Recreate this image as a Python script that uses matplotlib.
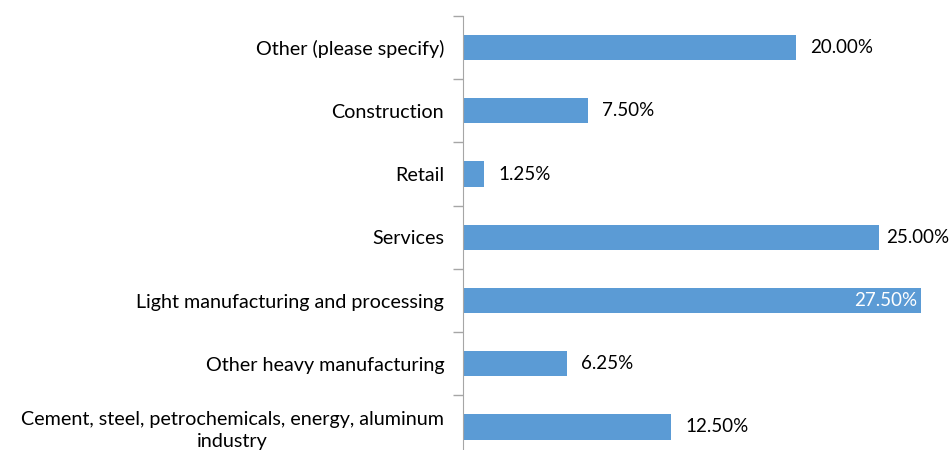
import matplotlib
matplotlib.use("Agg")
import matplotlib.pyplot as plt
import numpy as np

categories = ["Cement, steel, petrochemicals, energy, aluminum\nindustry",
              "Other heavy manufacturing",
              "Light manufacturing and processing",
              "Services",
              "Retail",
              "Construction",
              "Other (please specify)"]
values = [12.50, 6.25, 27.50, 25.00, 1.25, 7.50, 20.00]
labels = ["12.50%", "6.25%", "27.50%", "25.00%", "1.25%", "7.50%", "20.00%"]

plt.rcParams['font.family'] = ['Lato', 'DejaVu Sans']

fig = plt.figure(figsize=(9.52, 4.5), dpi=100)
ax = fig.add_axes([463/952, (450-458.6)/450, 483/952, 442.6/450])

y = np.arange(len(categories))
color = "#5B9BD5"
ax.barh(y, values, height=0.4, color=color)
xmax = 29
ax.set_xlim(0, xmax)
ax.set_ylim(-0.5, len(categories) - 0.5)

fig.canvas.draw()
renderer = fig.canvas.get_renderer()
px_per_unit = ax.transData.transform((1, 0))[0] - ax.transData.transform((0, 0))[0]
fig_right_px = fig.bbox.width - 3

for yi, v, lab in zip(y, values, labels):
    if v > 26:
        ax.text(v - 0.25, yi, lab, ha='right', va='center', color='white', fontsize=13.5)
    else:
        t = ax.text(v + 0.85, yi, lab, ha='left', va='center', color='#000000', fontsize=13.5)
        bb = t.get_window_extent(renderer)
        if bb.x1 > fig_right_px:
            # shift label inward so it stays inside the chart area
            shift = (bb.x1 - fig_right_px) / px_per_unit
            t.set_x(v + 0.85 - shift)

ax.set_yticks(y)
ax.set_yticklabels(categories, fontsize=14.2, multialignment='center', linespacing=1.3)
ax.set_yticks(np.arange(-0.5, len(categories), 1.0), minor=True)
ax.tick_params(axis='y', which='major', length=0, pad=13.5)
ax.tick_params(axis='y', which='minor', length=7, color='#A6A6A6', width=1)

for s in ['top', 'right', 'bottom']:
    ax.spines[s].set_visible(False)
ax.spines['left'].set_color('#A6A6A6')
ax.xaxis.set_visible(False)

fig.savefig("out.png", dpi=100)
